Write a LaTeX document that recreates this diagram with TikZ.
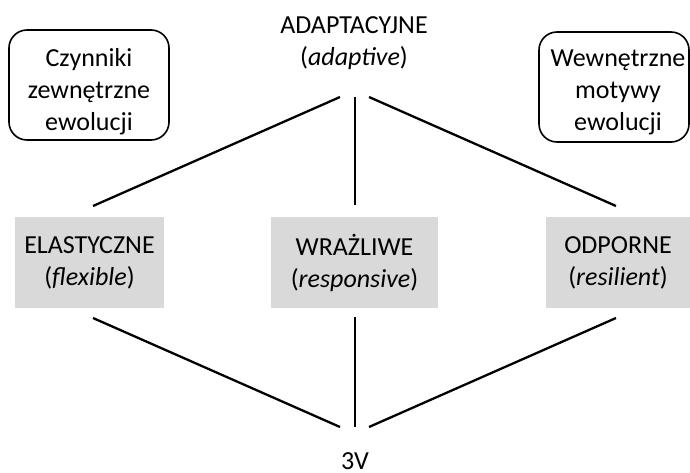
\documentclass[tikz,border=0pt]{standalone}
\usepackage{fontspec}
\setmainfont{Carlito}
\usetikzlibrary{calc}
\definecolor{boxgray}{HTML}{D9D9D9}
\begin{document}
\begin{tikzpicture}[x=1pt,y=-1pt,
  txt/.style={font=\fontsize{26}{32}\selectfont, align=center, inner sep=0pt},
  graybox/.style={txt, fill=boxgray, minimum height=91pt},
  roundbox/.style={draw, line width=1.6pt, rounded corners=18pt, minimum height=110pt, inner sep=0pt},
  link/.style={line width=2.3pt}]
\useasboundingbox (0,0) rectangle (690,473);

\node[txt] (adapt) at (354,43) {ADAPTACYJNE\\(\textit{adaptive})};

\node[roundbox, minimum width=160pt] (ext) at (89,85) {};
\node[txt] (exttxt) at ($(ext.center)+(0,7)$) {Czynniki\\zewnętrzne\\ewolucji};
\node[roundbox, minimum width=150pt] (int) at (614,87) {};
\node[txt] (inttxt) at ($(int.center)+(4,5)$) {Wewnętrzne\\motywy\\ewolucji};

\node[graybox, minimum width=149pt] (elast) at (89.5,262.5) {ELASTYCZNE\\(\textit{flexible})};
\node[graybox, minimum width=167pt] (wraz) at (354.5,262.5) {WRAŻLIWE\\(\textit{responsive})};
\node[graybox, minimum width=144pt] (odp) at (618,262.5) {ODPORNE\\(\textit{resilient})};

\node[txt] (v3) at (355,461) {3V};

\draw[link] ($(adapt.center)+(-14,54)$) -- ($(elast.center)+(3.5,-56.5)$);
\draw[link] ($(adapt.center)+(1,54)$) -- ($(wraz.center)+(0.5,-57.5)$);
\draw[link] ($(adapt.center)+(15,54)$) -- ($(odp.center)+(-2,-56.5)$);

\draw[link] ($(elast.center)+(3.5,55.5)$) -- ($(v3.center)+(-15,-34)$);
\draw[link] ($(wraz.center)+(0.5,54.5)$) -- ($(v3.center)+(0,-34)$);
\draw[link] ($(odp.center)+(-2,55.5)$) -- ($(v3.center)+(14,-34)$);
\end{tikzpicture}
\end{document}
